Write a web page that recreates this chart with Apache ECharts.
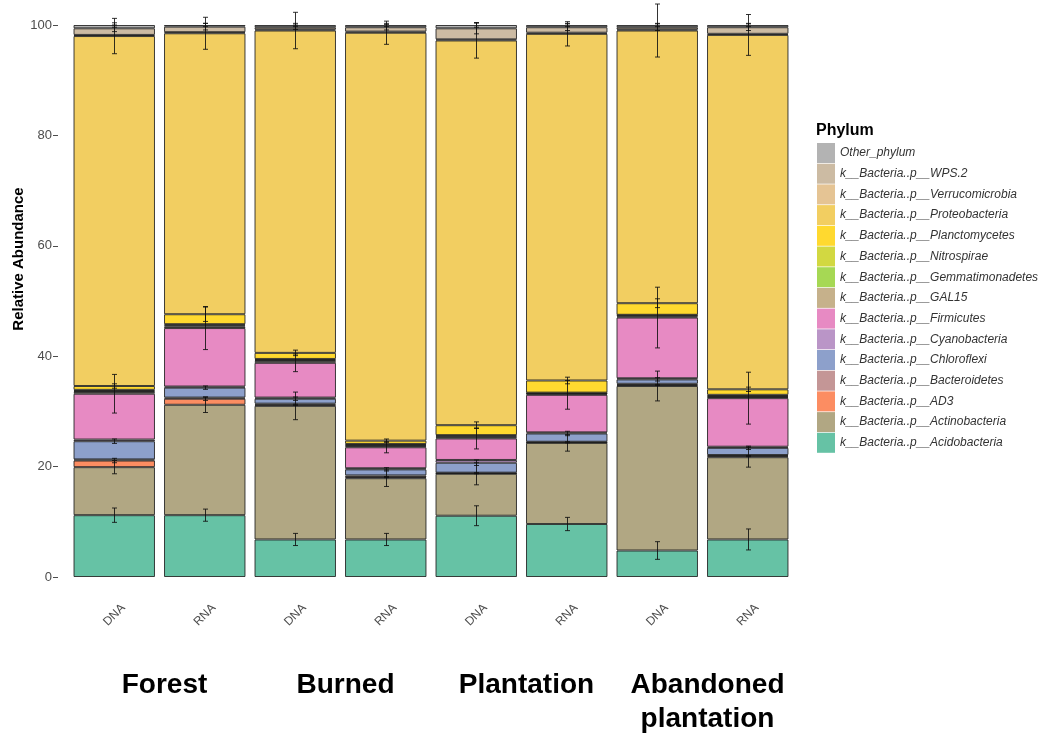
<!DOCTYPE html>
<html>
<head>
<meta charset="utf-8">
<script src="https://cdn.jsdelivr.net/npm/echarts@6/dist/echarts.min.js"></script>
<style>
  html, body { margin: 0; padding: 0; background: #ffffff; }
  #chart { width: 1052px; height: 736px; }
</style>
</head>
<body>
<div id="chart"></div>
<script>
// Sample groups along the x axis: each site has a DNA and an RNA library
const sites = ['Forest', 'Burned', 'Plantation', 'Abandoned\nplantation'];
const libraries = ['DNA', 'RNA'];
const yTicks = [0, 20, 40, 60, 80, 100];

// Phyla, bottom of the stack first
const phyla = [
  'k__Bacteria..p__Acidobacteria',
  'k__Bacteria..p__Actinobacteria',
  'k__Bacteria..p__AD3',
  'k__Bacteria..p__Bacteroidetes',
  'k__Bacteria..p__Chloroflexi',
  'k__Bacteria..p__Cyanobacteria',
  'k__Bacteria..p__Firmicutes',
  'k__Bacteria..p__GAL15',
  'k__Bacteria..p__Gemmatimonadetes',
  'k__Bacteria..p__Nitrospirae',
  'k__Bacteria..p__Planctomycetes',
  'k__Bacteria..p__Proteobacteria',
  'k__Bacteria..p__Verrucomicrobia',
  'k__Bacteria..p__WPS.2',
  'Other_phylum'
];
const phylumColors = [
  '#66c2a5', '#b1a783', '#fc8d62', '#c49696', '#8da0cb',
  '#ba95c7', '#e78ac3', '#c6b18b', '#a6d854', '#d2d841',
  '#ffd92f', '#f2ce61', '#e5c494', '#ccbba3', '#b3b3b3'
];

// Mean relative abundance (%) per sample: Forest DNA, Forest RNA, Burned DNA, Burned RNA,
// Plantation DNA, Plantation RNA, Abandoned DNA, Abandoned RNA
const acidobacteria    = [11.2, 11.2,  6.8,  6.8, 11.1,  9.6,  4.8,  6.8];
const actinobacteria   = [ 8.7, 20.0, 24.2, 11.1,  7.6, 14.7, 29.8, 14.9];
const ad3              = [ 1.2,  1.1,  0.2,  0.2,  0.1,  0.1,  0.2,  0.2];
const bacteroidetes    = [ 0.2,  0.2,  0.2,  0.3,  0.1,  0.1,  0.2,  0.2];
const chloroflexi      = [ 3.3,  1.8,  0.9,  1.1,  1.8,  1.5,  0.8,  1.3];
const cyanobacteria    = [ 0.3,  0.2,  0.2,  0.2,  0.5,  0.2,  0.2,  0.2];
const firmicutes       = [ 8.3, 10.6,  6.3,  3.8,  3.9,  6.8, 11.0,  8.8];
const gal15            = [ 0.3,  0.3,  0.3,  0.2,  0.2,  0.2,  0.2,  0.2];
const gemmatimonadetes = [ 0.2,  0.2,  0.2,  0.2,  0.2,  0.1,  0.2,  0.2];
const nitrospirae      = [ 0.2,  0.2,  0.2,  0.2,  0.2,  0.1,  0.1,  0.2];
const planctomycetes   = [ 0.7,  1.8,  1.1,  0.6,  1.8,  2.2,  2.1,  1.0];
const proteobacteria   = [63.4, 50.9, 58.4, 73.9, 69.7, 62.8, 49.4, 64.2];
const verrucomicrobia  = [ 0.2,  0.2,  0.2,  0.2,  0.2,  0.2,  0.2,  0.2];
const wps2             = [ 1.2,  1.0,  0.4,  0.8,  2.0,  1.0,  0.4,  1.2];
const otherPhylum      = [ 0.6,  0.3,  0.4,  0.4,  0.6,  0.4,  0.4,  0.4];

// Standard deviations (%) shown as error bars at the top of each phylum's block
const sdAcidobacteria  = [1.3, 1.1, 1.1, 1.1, 1.8, 1.2, 1.6, 1.9];
const sdActinobacteria = [1.2, 1.4, 2.5, 1.5, 2.0, 1.5, 2.7, 1.8];
const sdAD3            = [0.4, 0.3, 0.1, 0.1, 0.1, 0.1, 0.1, 0.1];
const sdChloroflexi    = [0.4, 0.3, 0.3, 0.3, 0.5, 0.4, 0.3, 0.3];
const sdFirmicutes     = [3.5, 3.9, 1.6, 1.0, 1.9, 2.6, 5.5, 4.7];
const sdPlanctomycetes = [0.4, 1.3, 0.5, 0.3, 0.6, 0.6, 0.8, 0.4];
const sdProteobacteria = [3.2, 2.9, 3.3, 2.1, 3.2, 2.2, 4.8, 3.7];
const sdWPS2           = [0.6, 0.6, 0.4, 0.5, 1.0, 0.6, 0.6, 0.6];
const sdOther          = [0.4, 0.3, 0.3, 0.3, 0.4, 0.3, 0.3, 0.3];

const abundance = [
  acidobacteria, actinobacteria, ad3, bacteroidetes, chloroflexi, cyanobacteria,
  firmicutes, gal15, gemmatimonadetes, nitrospirae, planctomycetes, proteobacteria,
  verrucomicrobia, wps2, otherPhylum
];
const deviation = {
  0: sdAcidobacteria, 1: sdActinobacteria, 2: sdAD3, 4: sdChloroflexi,
  6: sdFirmicutes, 10: sdPlanctomycetes, 11: sdProteobacteria, 13: sdWPS2, 14: sdOther
};

// One category per sample, labelled with its library type
const samples = [];
sites.forEach(s => libraries.forEach(l => samples.push(s + '|' + l)));

// Error bar items: [sample index, cumulative top, low, high]
const errorItems = [];
samples.forEach((_, i) => {
  let cum = 0;
  abundance.forEach((arr, p) => {
    cum += arr[i];
    const sd = deviation[p];
    if (sd) errorItems.push([i, cum, cum - sd[i], cum + sd[i]]);
  });
});

const FONT = '"Liberation Sans", Arial, Helvetica, sans-serif';

const barSeries = phyla.map((name, p) => ({
  name: name,
  type: 'bar',
  stack: 'total',
  barWidth: '90%',
  data: abundance[p],
  itemStyle: {
    color: phylumColors[p],
    borderColor: 'rgba(30,30,30,0.85)',
    borderWidth: 1
  },
  emphasis: { disabled: true },
  z: 2
}));

const errorSeries = {
  type: 'custom',
  name: 'sd',
  clip: false,
  z: 5,
  silent: true,
  data: errorItems,
  renderItem: function (params, api) {
    const x = api.value(0);
    const lo = api.coord([x, api.value(2)]);
    const hi = api.coord([x, api.value(3)]);
    const cx = Math.round(lo[0]) + 0.5;
    const cap = 2.5;
    const style = { stroke: 'rgba(15,15,15,0.85)', lineWidth: 1 };
    return {
      type: 'group',
      children: [
        { type: 'line', shape: { x1: cx, y1: hi[1], x2: cx, y2: lo[1] }, style: style },
        { type: 'line', shape: { x1: cx - cap, y1: hi[1], x2: cx + cap, y2: hi[1] }, style: style },
        { type: 'line', shape: { x1: cx - cap, y1: lo[1], x2: cx + cap, y2: lo[1] }, style: style }
      ]
    };
  }
};

const chart = echarts.init(document.getElementById('chart'), null, { renderer: 'canvas' });
chart.setOption({
  animation: false,
  backgroundColor: '#ffffff',
  textStyle: { fontFamily: FONT },
  title: {
    text: 'Phylum',
    left: 811,
    top: 118,
    textStyle: { fontFamily: FONT, fontSize: 16, fontWeight: 'bold', color: '#000000' }
  },
  legend: {
    orient: 'vertical',
    left: 812,
    top: 138,
    itemWidth: 18,
    itemHeight: 20,
    itemGap: 0.7,
    itemTextGap: 6,
    icon: 'rect',
    selectedMode: false,
    data: phyla.slice().reverse(),
    itemStyle: { borderWidth: 0 },
    textStyle: { fontFamily: FONT, fontSize: 12, fontStyle: 'italic', color: '#333333' }
  },
  graphic: [{
    type: 'text',
    x: 19,
    y: 259,
    rotation: Math.PI / 2,
    style: {
      text: 'Relative Abundance',
      font: 'bold 15px ' + FONT,
      fill: '#000000',
      textAlign: 'center',
      textVerticalAlign: 'middle'
    }
  }],
  grid: { left: 69, right: 259, top: 25, bottom: 159, containLabel: false },
  xAxis: [
    {
      type: 'category',
      data: samples,
      position: 'bottom',
      axisLine: { show: false },
      axisTick: { show: false },
      axisLabel: {
        interval: 0,
        formatter: v => v.split('|')[1],
        rotate: 45,
        align: 'center',
        verticalAlign: 'middle',
        margin: 38,
        fontFamily: FONT,
        fontSize: 12,
        color: '#4d4d4d'
      }
    },
    {
      type: 'category',
      data: sites,
      position: 'bottom',
      axisLine: { show: false },
      axisTick: { show: false },
      axisLabel: {
        interval: 0,
        margin: 91,
        verticalAlign: 'top',
        lineHeight: 34,
        padding: [0, 0, 0, 10],
        fontFamily: FONT,
        fontSize: 28,
        fontWeight: 'bold',
        color: '#000000'
      }
    }
  ],
  yAxis: {
    type: 'value',
    min: yTicks[0],
    max: yTicks[yTicks.length - 1],
    interval: 20,
    offset: 11,
    axisLine: { show: false },
    axisTick: { show: true, length: 5, lineStyle: { color: '#4d4d4d', width: 1 } },
    splitLine: { show: false },
    axisLabel: { margin: 6, fontFamily: FONT, fontSize: 13, color: '#4d4d4d' }
  },
  series: barSeries.concat([errorSeries])
});
</script>
</body>
</html>
